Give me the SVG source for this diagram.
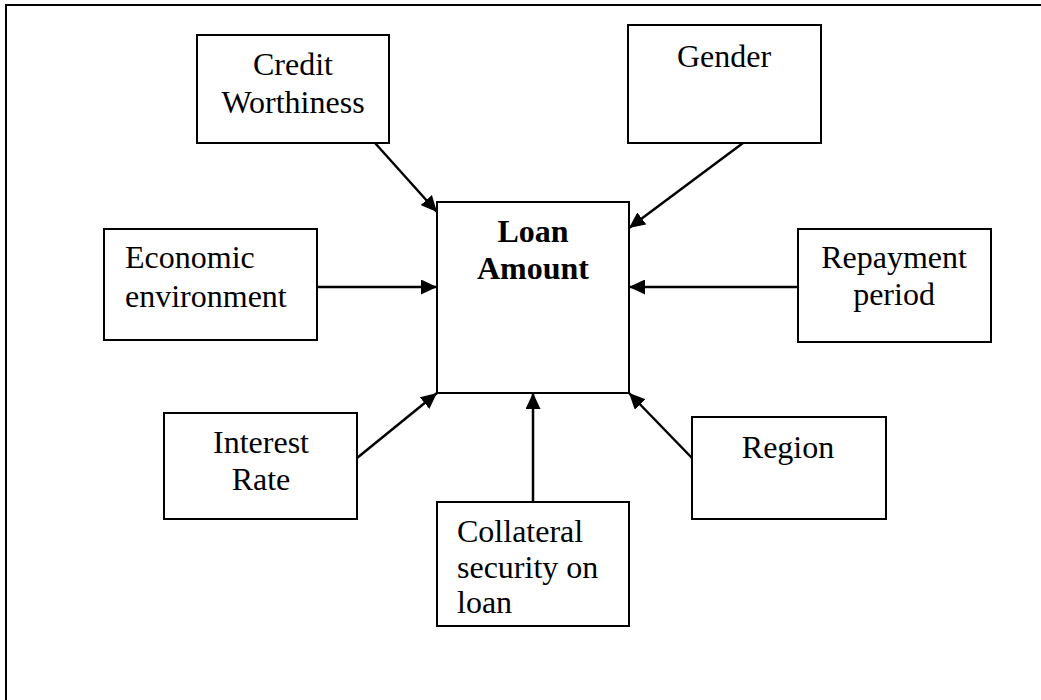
<svg xmlns="http://www.w3.org/2000/svg" width="1041" height="700" viewBox="0 0 1041 700">
<defs>
<style>
.box{fill:#fff;stroke:#000;stroke-width:2}
.t{font-family:"Liberation Serif","Times New Roman",serif;font-size:32px;fill:#000}
.c{text-anchor:middle}
.b{font-weight:bold}
.e{stroke:#000;stroke-width:2.5;fill:none;marker-end:url(#ah)}
</style>
<marker id="ah" markerUnits="userSpaceOnUse" markerWidth="17" markerHeight="15" refX="16" refY="7.5" orient="auto">
<path d="M0,0 L16,7.5 L0,15 Z" fill="#000"/>
</marker>
</defs>
<rect width="1041" height="700" fill="#fff"/>
<rect x="6" y="5" width="1100" height="800" fill="none" stroke="#000" stroke-width="2"/>
<g id="connectors">
<line class="e" x1="375" y1="143" x2="437" y2="212"/>
<line class="e" x1="743" y1="143" x2="629" y2="228"/>
<line class="e" x1="317" y1="287" x2="437" y2="287"/>
<line class="e" x1="798" y1="287" x2="629" y2="287"/>
<line class="e" x1="357" y1="458" x2="437" y2="393"/>
<line class="e" x1="533" y1="502" x2="533" y2="393"/>
<line class="e" x1="692" y1="458" x2="629" y2="393"/>
</g>
<g id="loan">
<rect class="box" x="437" y="202" width="192" height="191"/>
<text class="t c b" x="533" y="242">Loan</text>
<text class="t c b" x="533" y="279">Amount</text>
</g>
<g id="credit">
<rect class="box" x="197" y="35" width="192" height="108"/>
<text class="t c" x="293" y="75">Credit</text>
<text class="t c" x="293" y="113">Worthiness</text>
</g>
<g id="gender">
<rect class="box" x="628" y="25" width="193" height="118"/>
<text class="t c" x="724" y="67">Gender</text>
</g>
<g id="economic">
<rect class="box" x="104" y="229" width="213" height="111"/>
<text class="t" x="125" y="268">Economic</text>
<text class="t" x="125" y="307">environment</text>
</g>
<g id="repayment">
<rect class="box" x="798" y="229" width="193" height="113"/>
<text class="t c" x="894" y="268">Repayment</text>
<text class="t c" x="894" y="305">period</text>
</g>
<g id="interest">
<rect class="box" x="164" y="413" width="193" height="106"/>
<text class="t c" x="261" y="453">Interest</text>
<text class="t c" x="261" y="490">Rate</text>
</g>
<g id="collateral">
<rect class="box" x="437" y="502" width="192" height="124"/>
<text class="t" x="457" y="542">Collateral</text>
<text class="t" x="457" y="578">security on</text>
<text class="t" x="457" y="613">loan</text>
</g>
<g id="region">
<rect class="box" x="692" y="417" width="194" height="102"/>
<text class="t c" x="788" y="458">Region</text>
</g>
</svg>
